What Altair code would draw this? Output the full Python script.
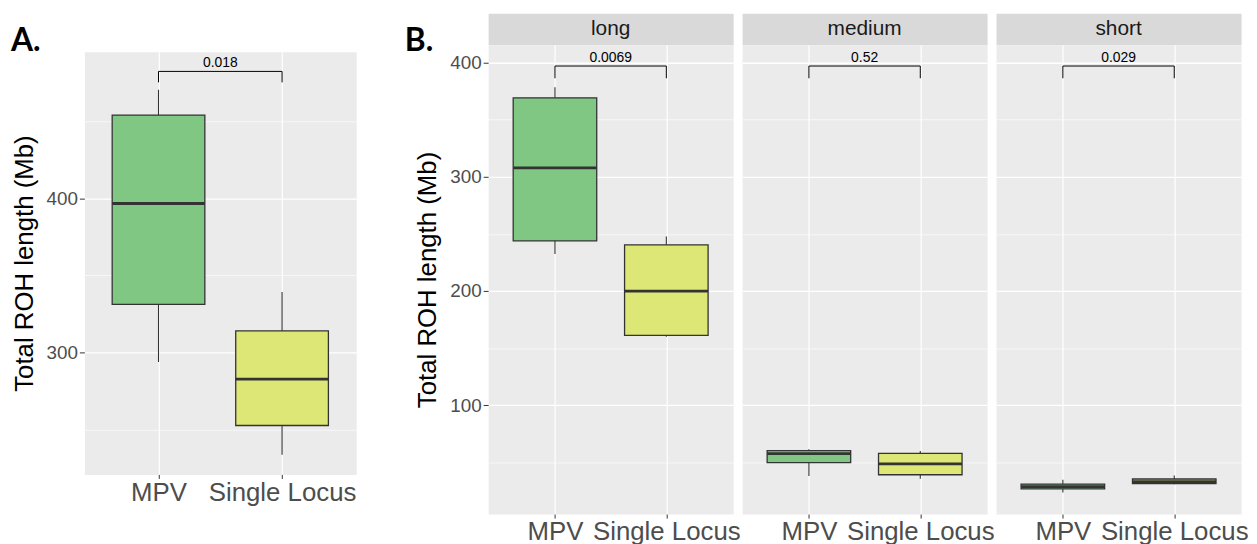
import altair as alt
import pandas as pd

FONT = "Liberation Sans"
LABEL_FONT = "Lato"

# ---------------- data ----------------
groups = ["MPV", "Single Locus"]
positions = [1, 2]
colors = ["#81C784", "#DCE775"]

# Panel A (all ROH)
a_low = [293.8, 233.8]
a_q1 = [331.2, 252.7]
a_med = [396.6, 282.7]
a_q3 = [453.9, 314.1]
a_high = [470.3, 339.2]
a_pvalue = "0.018"
a_bracket = 482.2
a_bracket_drop = 475.1
a_domain = [221.0, 494.9]
a_ticks = [250, 300, 350, 400, 450]

# Panel B (by ROH class)
panels = ["long", "medium", "short"]
long_low = [232.3, 160.0]
long_q1 = [243.9, 161.2]
long_med = [307.7, 200.0]
long_q3 = [369.0, 240.4]
long_high = [378.3, 247.6]
medium_low = [38.2, 35.8]
medium_q1 = [50.0, 39.3]
medium_med = [57.8, 48.8]
medium_q3 = [60.4, 58.1]
medium_high = [61.6, 60.1]
short_low = [23.7, 31.0]
short_q1 = [26.9, 31.5]
short_med = [28.9, 33.2]
short_q3 = [31.2, 35.6]
short_high = [35.0, 38.7]
b_pvalues = ["0.0069", "0.52", "0.029"]
b_bracket = 396.8
b_bracket_drop = 386.1
b_domain = [4.9, 415.3]
b_ticks = [50, 100, 150, 200, 250, 300, 350, 400]

b_stats = {
    "long": (long_low, long_q1, long_med, long_q3, long_high),
    "medium": (medium_low, medium_q1, medium_med, medium_q3, medium_high),
    "short": (short_low, short_q1, short_med, short_q3, short_high),
}

# ---------------- style ----------------
BOX_HALF = 0.375
X_DOMAIN = [0.4, 2.6]
DARK = "#333333"

label_expr = " : ".join(
    [f"datum.value === {p} ? '{g}'" for p, g in zip(positions[:-1], groups[:-1])]
    + [f"'{groups[-1]}'"]
)


def x_axis():
    return alt.Axis(
        values=positions, labelExpr=label_expr, title=None, domain=False,
        grid=True, gridColor="white", gridWidth=1.2,
        ticks=True, tickSize=4, tickColor=DARK, tickWidth=1,
        labelFont=FONT, labelFontSize=26, labelColor="#4D4D4D",
        labelPadding=1, labelOverlap=False, labelFlush=False,
    )


def y_axis(ticks, show):
    major = "datum.value % 100 === 0"
    common = dict(
        values=ticks, domain=False, grid=True, gridColor="white",
        gridWidth={"condition": {"test": major, "value": 1.3}, "value": 0.6},
    )
    if show:
        return alt.Axis(
            **common,
            title="Total ROH length (Mb)", titleFont=FONT, titleFontSize=26,
            titleFontWeight="normal", titleColor="black", titlePadding=9,
            labelExpr=f"{major} ? datum.label : ''",
            labelFont=FONT, labelFontSize=19, labelColor="#4D4D4D", labelPadding=2,
            ticks=True, tickSize=5, tickColor=DARK, tickWidth=1,
            tickOpacity={"condition": {"test": major, "value": 1}, "value": 0},
        )
    return alt.Axis(**common, title=None, labels=False, ticks=False)


def make_plot(low, q1, med, q3, high, pvalue, bracket, drop, domain, ticks,
              width, height, show_y):
    df = pd.DataFrame({
        "group": groups, "pos": positions, "low": low, "q1": q1,
        "med": med, "q3": q3, "high": high,
    })
    df["x_lo"] = df["pos"] - BOX_HALF
    df["x_hi"] = df["pos"] + BOX_HALF
    br = pd.DataFrame({"x1": [positions[0]], "x2": [positions[1]],
                       "mid": [(positions[0] + positions[1]) / 2],
                       "top": [bracket], "drop": [drop], "p": [pvalue]})
    legs = pd.DataFrame({"leg": positions, "top": [bracket] * 2, "drop": [drop] * 2})

    xs = alt.Scale(domain=X_DOMAIN, nice=False, zero=False)
    ys = alt.Scale(domain=domain, nice=False, zero=False)

    def X(f):
        return alt.X(f"{f}:Q", scale=xs, axis=x_axis())

    def Y(f):
        return alt.Y(f"{f}:Q", scale=ys, axis=y_axis(ticks, show_y))

    whisk = alt.Chart(df).mark_rule(color=DARK, strokeWidth=1.1).encode(
        x=X("pos"), y=Y("low"), y2="high")
    box = alt.Chart(df).mark_bar(stroke=DARK, strokeWidth=1.3).encode(
        x=X("x_lo"), x2="x_hi", y=Y("q1"), y2="q3",
        color=alt.Color("group:N", scale=alt.Scale(domain=groups, range=colors), legend=None))
    median = alt.Chart(df).mark_rule(color=DARK, strokeWidth=2.8).encode(
        x=X("x_lo"), x2="x_hi", y=Y("med"))
    top = alt.Chart(br).mark_rule(color="black", strokeWidth=1).encode(
        x=X("x1"), x2="x2", y=Y("top"))
    leg = alt.Chart(legs).mark_rule(color="black", strokeWidth=1).encode(
        x=X("leg"), y=Y("drop"), y2="top")
    ptxt = alt.Chart(br).mark_text(font=FONT, fontSize=14, color="black",
                                   baseline="alphabetic", dy=-4).encode(
        x=X("mid"), y=Y("top"), text="p:N")
    return alt.layer(whisk, box, median, top, leg, ptxt).properties(width=width, height=height)


def panel_label(text, dx):
    # Vega puts a top title's bounds right above the view; dy moves it down
    # beside the view so that it does not push the layout.
    return alt.TitleParams(
        text=text, anchor="start", frame="group", offset=0, baseline="alphabetic",
        dx=dx, dy=70, font=LABEL_FONT, fontSize=32, fontWeight="bold", color="black")


# ---------------- panel A ----------------
A_W, A_H = 274, 426
a_head = alt.Chart(pd.DataFrame({"t": [""]})).mark_text().encode(text="t:N").properties(
    width=A_W, height=39, view=alt.ViewBackground(fill="white", stroke="transparent"),
    title=panel_label("A.", -74))
a_plot = make_plot(a_low, a_q1, a_med, a_q3, a_high, a_pvalue, a_bracket,
                   a_bracket_drop, a_domain, a_ticks, A_W, A_H, True)
a_col = alt.vconcat(a_head, a_plot, spacing=0, bounds="flush")

# ---------------- panel B ----------------
B_W, B_H, STRIP_H = 247, 473, 32
b_cols = []
for i, name in enumerate(panels):
    low, q1, med, q3, high = b_stats[name]
    strip_props = dict(width=B_W, height=STRIP_H,
                       view=alt.ViewBackground(fill="#D9D9D9", stroke="transparent"))
    if i == 0:
        strip_props["title"] = panel_label("B.", -84)
    strip = alt.Chart(pd.DataFrame({"panel": [name]})).mark_text(
        font=FONT, fontSize=21, color="#1A1A1A").encode(text="panel:N").properties(**strip_props)
    plot = make_plot(low, q1, med, q3, high, b_pvalues[i], b_bracket, b_bracket_drop,
                     b_domain, b_ticks, B_W, B_H, i == 0)
    b_cols.append(alt.vconcat(strip, plot, spacing=0, bounds="flush"))
b_group = alt.hconcat(*b_cols, spacing=0)

chart = alt.hconcat(a_col, b_group, spacing=47).properties(
    padding={"left": 2, "top": 2, "right": 0, "bottom": 0}
).configure_view(fill="#EBEBEB", stroke="transparent")

chart.save("out.html", embed_options={"renderer": "svg", "actions": False})
